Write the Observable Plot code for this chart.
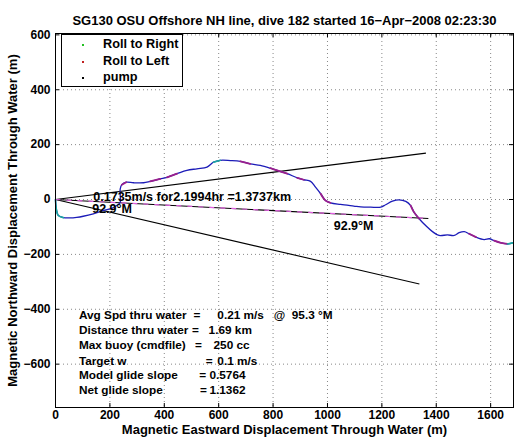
<!DOCTYPE html>
<html>
<head>
<meta charset="utf-8">
<script src="https://cdn.jsdelivr.net/npm/d3@7"></script>
<script src="https://cdn.jsdelivr.net/npm/@observablehq/plot@0.6"></script>
<style>
  html, body { margin: 0; padding: 0; background: #fff; }
  #wrap { position: relative; width: 520px; height: 442px; }
  svg text { white-space: pre; font-weight: bold; }
  #legend { position: absolute; left: 61px; top: 34px; width: 120px; height: 51px;
    border: 1px solid #000; background: #fff;
    font: bold 12.7px "Liberation Sans", Arial, sans-serif; }
  .li { position: absolute; left: 0; height: 15px; line-height: 15px; }
  .dot { position: absolute; left: 20px; top: 7px; width: 2px; height: 2px; }
  .lt { position: absolute; left: 41px; top: 0; white-space: nowrap; }
</style>
</head>
<body>
<div id="wrap"></div>
<script>
// ---- data ----
const xTicks = [0, 200, 400, 600, 800, 1000, 1200, 1400, 1600];
const yTicks = [-600, -400, -200, 0, 200, 400, 600];
const xDomain = [0, 1684];
const yDomain = [-758, 605];

const trackX = [0, 3, 10, 29, 53, 78, 102, 139, 176, 207, 225, 238, 238, 238, 244, 260, 287, 324, 348, 385,
  410, 447, 483, 520, 557, 581, 606, 643, 680, 716, 753, 790, 815, 852, 889, 913, 938, 956, 975, 993,
  1011, 1048, 1097, 1122, 1159, 1196, 1214, 1239, 1263, 1288, 1306, 1318, 1337, 1361, 1386, 1410, 1441, 1466, 1484, 1503,
  1521, 1546, 1576, 1595, 1613, 1638, 1662, 1681];
const trackY = [0, -34, -58, -66, -67, -65, -61, -52, -40, -32, -22, -10, 15, 39, 54, 63, 61, 61, 66, 75,
  81, 94, 106, 112, 118, 136, 143, 142, 139, 130, 124, 114, 106, 94, 79, 72, 66, 45, 21, -4,
  -12, -18, -24, -27, -28, -28, -19, -6, -1, -7, -22, -46, -70, -95, -117, -131, -129, -131, -121, -117,
  -125, -137, -146, -143, -150, -158, -162, -158];

// index ranges of the track where the glider rolls
const rollLeftSegments = [[14, 15], [18, 19], [20, 21], [28, 29], [31, 33], [34, 35], [38, 40], [50, 52], [60, 61], [64, 66]];
const rollRightSegments = [[0, 3], [25, 26], [66, 67]];

// heading lines from the origin (82.9, 92.9, 102.9 deg M)
const headingEndX = [1362, 1371, 1338];
const headingEndY = [169, -69, -308];

const legendLabels = ["Roll to Right", "Roll to Left", "pump"];
const legendColors = ["#22c022", "#c02020", "#000000"];

const titleText = "SG130 OSU Offshore NH line, dive 182 started 16\u2212Apr\u22122008 02:23:30";
const xLabel = "Magnetic Eastward Displacement Through Water (m)";
const yLabel = "Magnetic Northward Displacement Through Water (m)";

const currentText = "0.1735m/s for2.1994hr =1.3737km";
const headingText = "92.9\u00B0M";

const statLabels = ["Avg Spd thru water", "Distance thru water", "Max buoy (cmdfile)", "Target w", "Model glide slope", "Net glide slope"];
const statValues = ["0.21 m/s   @  95.3 \u00B0M", "1.69 km", "250 cc", "0.1 m/s", "0.5764", "1.1362"];

// ---- layout ----
const W = 520, H = 442;
const mL = 55, mR = 7, mT = 33, mB = 35;
const pxPerX = (W - mL - mR) / (xDomain[1] - xDomain[0]);
const pxPerY = (H - mT - mB) / (yDomain[1] - yDomain[0]);
const tkX = 4 / pxPerX, tkY = 4 / pxPerY;

const statX = 86;
const statEqX = [507, 502, 513, 552, 529, 531];
const statValX = [595, 563, 581, 595, 566, 566];
const statY = [-420, -478, -532, -590, -642, -694];

function segRows(segs) {
  const rows = [];
  segs.forEach(([a, b], k) => { for (let i = a; i <= b; i++) rows.push({x: trackX[i], y: trackY[i], s: k}); });
  return rows;
}
const track = trackX.map((x, i) => ({x, y: trackY[i]}));
const headings = headingEndX.map((x, i) => ({x, y: headingEndY[i]}));
const stats = statLabels.map((l, i) => ({l, v: statValues[i], y: statY[i], ex: statEqX[i], vx: statValX[i]}));
const fmt = d => String(d).replace("-", "\u2212");

const font = "'Liberation Sans', Arial, Helvetica, sans-serif";
const tOpt = {fill: "#000", fontWeight: "bold", fontSize: 13};

const plot = Plot.plot({
  width: W, height: H,
  marginLeft: mL, marginRight: mR, marginTop: mT, marginBottom: mB,
  style: {fontFamily: font, fontSize: "12px", fontWeight: "bold", background: "#fff", color: "#000"},
  x: {domain: xDomain, ticks: xTicks, axis: null},
  y: {domain: yDomain, ticks: yTicks, axis: null},
  marks: [
    Plot.gridX(xTicks, {stroke: "#888", strokeOpacity: 1, strokeDasharray: "1,3"}),
    Plot.gridY(yTicks, {stroke: "#888", strokeOpacity: 1, strokeDasharray: "1,3"}),
    // inner ticks on all four sides
    Plot.ruleX(xTicks, {x: d => d, y1: yDomain[0], y2: yDomain[0] + tkY, stroke: "#000"}),
    Plot.ruleX(xTicks, {x: d => d, y1: yDomain[1] - tkY, y2: yDomain[1], stroke: "#000"}),
    Plot.ruleY(yTicks, {y: d => d, x1: xDomain[0], x2: xDomain[0] + tkX, stroke: "#000"}),
    Plot.ruleY(yTicks, {y: d => d, x1: xDomain[1] - tkX, x2: xDomain[1], stroke: "#000"}),
    // tick labels
    Plot.text(xTicks, {x: d => d, frameAnchor: "bottom", dy: 11, text: fmt, ...tOpt, fontSize: 12}),
    Plot.text(yTicks, {y: d => d, frameAnchor: "left", dx: -5, textAnchor: "end", text: fmt, ...tOpt, fontSize: 12}),
    // heading lines
    Plot.link(headings, {x1: 0, y1: 0, x2: "x", y2: "y", stroke: "#000", strokeWidth: 1.1}),
    Plot.link([headings[1]], {x1: 0, y1: 0, x2: "x", y2: "y", stroke: "#e060e0", strokeWidth: 1.2, strokeDasharray: "5,6"}),
    // track
    Plot.line(track, {x: "x", y: "y", stroke: "#1c1cb8", strokeWidth: 1.3, curve: "catmull-rom"}),
    Plot.line(segRows(rollLeftSegments), {x: "x", y: "y", z: "s", stroke: "#9a1f8c", strokeWidth: 1.8, curve: "catmull-rom"}),
    Plot.line(segRows(rollRightSegments), {x: "x", y: "y", z: "s", stroke: "#1aa8a0", strokeWidth: 1.6, curve: "catmull-rom"}),
    // annotations
    Plot.text([currentText], {x: 139, y: 10, text: d => d, textAnchor: "start", ...tOpt, fontSize: 12.5}),
    Plot.text([headingText], {x: 135, y: -36, text: d => d, textAnchor: "start", ...tOpt, fontSize: 12.5}),
    Plot.text([headingText], {x: 1023, y: -95, text: d => d, textAnchor: "start", ...tOpt, fontSize: 12.5}),
    Plot.text(stats, {x: statX, y: "y", text: "l", textAnchor: "start", ...tOpt, fontSize: 11.8}),
    Plot.text(stats, {x: "ex", y: "y", text: () => "=", textAnchor: "start", ...tOpt, fontSize: 11.8}),
    Plot.text(stats, {x: "vx", y: "y", text: "v", textAnchor: "start", ...tOpt, fontSize: 11.8}),
    Plot.frame({stroke: "#000", strokeWidth: 1}),
    // title and axis labels
    Plot.text([titleText], {frameAnchor: "top", dy: -18, text: d => d, textAnchor: "middle", ...tOpt}),
    Plot.text([xLabel], {frameAnchor: "bottom", dy: 26, text: d => d, textAnchor: "middle", ...tOpt}),
    Plot.text([yLabel], {frameAnchor: "left", dx: -43, rotate: -90, text: d => d, textAnchor: "middle", ...tOpt})
  ]
});

const wrap = document.getElementById("wrap");
wrap.appendChild(plot);

const legend = document.createElement("div");
legend.id = "legend";
legendLabels.forEach((lab, i) => {
  const row = document.createElement("div");
  row.className = "li";
  row.style.top = (2 + i * 16.5) + "px";
  row.style.width = "100%";
  const dot = document.createElement("div");
  dot.className = "dot";
  dot.style.background = legendColors[i];
  const t = document.createElement("div");
  t.className = "lt";
  t.textContent = lab;
  row.appendChild(dot);
  row.appendChild(t);
  legend.appendChild(row);
});
wrap.appendChild(legend);
</script>
</body>
</html>
